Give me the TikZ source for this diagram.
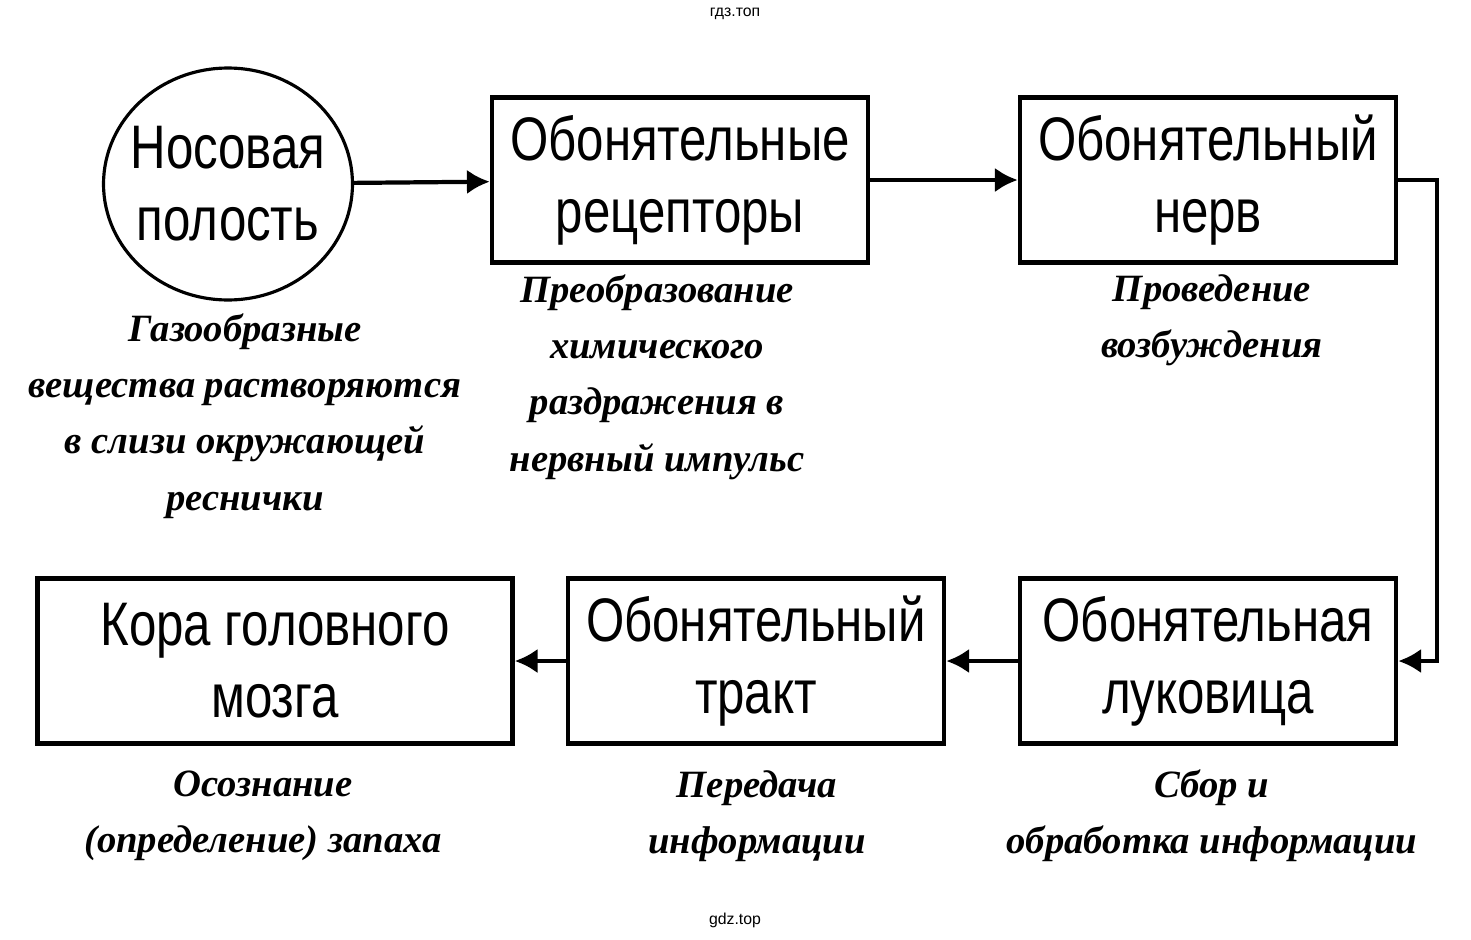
\documentclass[tikz,border=0pt]{standalone}
\usepackage{fontspec}
\setmainfont{Liberation Sans}
\newfontfamily\boxfont[FakeStretch=0.8]{Liberation Sans}
\newfontfamily\capfont{Liberation Serif}
\usetikzlibrary{arrows.meta,shapes.geometric}
\begin{document}
\begin{tikzpicture}[x=0.02cm, y=-0.02cm,
  box/.style={draw, line width=2.6pt, minimum width=7.52cm, minimum height=3.3cm, align=center,
    font=\boxfont\fontsize{35}{41}\selectfont},
  caption/.style={align=center, font=\capfont\bfseries\itshape\fontsize{22}{32}\selectfont},
  arr/.style={line width=2.4pt, -{Latex[length=13pt,width=14pt]}}]
\useasboundingbox (0,0) rectangle (1471,940);
\node (wm1) at (735,14) {\fontsize{9}{10}\selectfont гдз.топ};
\node (wm2) at (735,920) {\fontsize{9}{10}\selectfont gdz.top};
\node[draw, ellipse, inner xsep=-6pt, inner ysep=0pt, line width=1.8pt, minimum width=4.98cm, minimum height=4.64cm, align=center,
  font=\boxfont\fontsize{35}{41}\selectfont] (nose) at (228,184) {Носовая\\полость};
\node[box] (recep) at (680,180) {Обонятельные\\рецепторы};
\node[box] (nerve) at (1208,180) {Обонятельный\\нерв};
\node[box] (bulb) at (1208,661) {Обонятельная\\луковица};
\node[box] (tract) at (756,661) {Обонятельный\\тракт};
\node[box, minimum width=9.5cm] (cortex) at (275,661) {Кора головного\\мозга};
\draw[arr] (nose) -- (recep);
\draw[arr] (recep) -- (nerve);
\draw[arr] (nerve.east) -- ++(39,0) |- (bulb.east);
\draw[arr] (bulb) -- (tract);
\draw[arr] (tract) -- (cortex);
\node[caption] (c1) at (245,416) {Газообразные\\вещества растворяются\\в слизи окружающей\\реснички};
\node[caption] (c2) at (657,377) {Преобразование\\химического\\раздражения в\\нервный импульс};
\node[caption] (c3) at (1212,320) {Проведение\\возбуждения};
\node[caption] (c4) at (263,816) {Осознание\\(определение) запаха};
\node[caption] (c5) at (757,816) {Передача\\информации};
\node[caption] (c6) at (1212,816) {Сбор и\\обработка информации};
\end{tikzpicture}
\end{document}
